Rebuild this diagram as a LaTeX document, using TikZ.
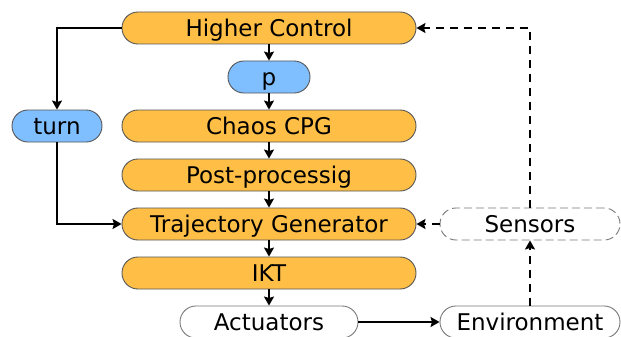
\documentclass[tikz,border=0pt]{standalone}
\usepackage{fontspec}
\setmainfont{DejaVu Sans}
\usetikzlibrary{arrows.meta}
\definecolor{boxorange}{HTML}{FFBF46}
\definecolor{boxblue}{HTML}{80BFFF}
\definecolor{boxedge}{HTML}{555555}
\begin{document}
\begin{tikzpicture}[x=1pt,y=-1pt,
  font=\fontsize{23}{27}\selectfont,
  blockbox/.style={draw=boxedge, line width=0.9pt, rounded corners=15.9pt,
    minimum height=32pt, inner sep=0pt, text height=16.8pt, text depth=0pt},
  orangebox/.style={blockbox, fill=boxorange, minimum width=294pt},
  bluebox/.style={blockbox, fill=boxblue},
  whitebox/.style={blockbox, fill=white, draw=boxedge!80},
  sensbox/.style={blockbox, fill=white, draw=boxedge!80, dash pattern=on 8pt off 4pt},
  conn/.style={line width=2pt, -{Stealth[length=9pt,width=10pt,inset=1.5pt]}},
  dconn/.style={conn, dash pattern=on 8pt off 6pt}
]
\useasboundingbox (0,0) rectangle (621,337);
\node[orangebox] (hc) at (269,28) {Higher Control};
\node[bluebox, minimum width=82pt] (p) at (269,77) {p};
\node[orangebox] (cpg) at (269,126) {Chaos CPG};
\node[orangebox] (post) at (269,175) {Post-processig};
\node[orangebox] (traj) at (269,224) {Trajectory Generator};
\node[orangebox] (ikt) at (269,273) {IKT};
\node[whitebox, minimum width=178pt] (act) at (269,322) {Actuators};
\node[whitebox, minimum width=180pt] (env) at (530,322) {Environment};
\node[sensbox, minimum width=180pt] (sens) at (530,224) {Sensors};
\node[bluebox, minimum width=90pt] (turn) at (57,126) {turn};

\draw[conn] (hc) -- (p);
\draw[conn] (p) -- (cpg);
\draw[conn] (cpg) -- (post);
\draw[conn] (post) -- (traj);
\draw[conn] (traj) -- (ikt);
\draw[conn] (ikt) -- (act);
\draw[conn] (hc.west) -| (turn.north);
\draw[conn] (turn.south) |- (traj.west);
\draw[conn] (act) -- (env);
\draw[dconn] (env) -- (sens);
\draw[dconn] (sens) -- (traj);
\draw[dconn] (sens.north) |- (hc.east);
\end{tikzpicture}
\end{document}
